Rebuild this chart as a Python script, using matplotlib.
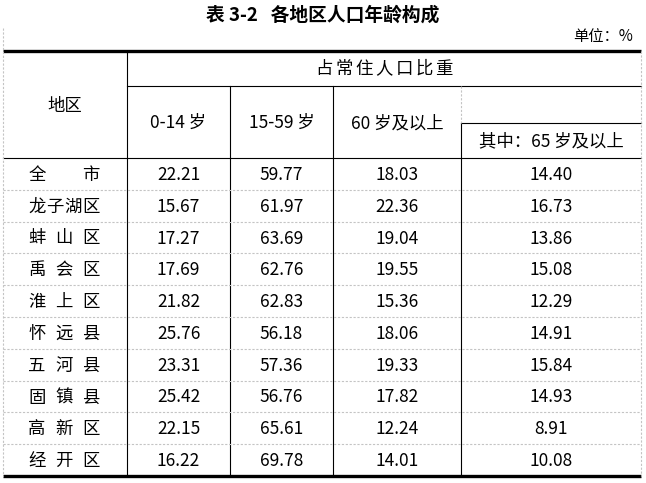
import matplotlib.pyplot as plt

plt.rcParams['font.family'] = ['Noto Sans CJK SC', 'DejaVu Sans']

title = "表 3-2   各地区人口年龄构成"
unit = "单位：%"
group_header = "占常住人口比重"
col_headers = ["0-14 岁", "15-59 岁", "60 岁及以上", "其中：65 岁及以上"]
regions = ["全市", "龙子湖区", "蚌山区", "禹会区", "淮上区",
           "怀远县", "五河县", "固镇县", "高新区", "经开区"]
age_0_14 = [22.21, 15.67, 17.27, 17.69, 21.82, 25.76, 23.31, 25.42, 22.15, 16.22]
age_15_59 = [59.77, 61.97, 63.69, 62.76, 62.83, 56.18, 57.36, 56.76, 65.61, 69.78]
age_60_up = [18.03, 22.36, 19.04, 19.55, 15.36, 18.06, 19.33, 17.82, 12.24, 14.01]
age_65_up = [14.40, 16.73, 13.86, 15.08, 12.29, 14.91, 15.84, 14.93, 8.91, 10.08]

W, H = 646, 483
fig = plt.figure(figsize=(W / 100, H / 100), dpi=100)
ax = fig.add_axes([0, 0, 1, 1])
ax.set_xlim(0, W)
ax.set_ylim(H, 0)
ax.axis('off')

# table layout (pixels)
x_left, x_right = 3, 641
x_cols = [127, 230, 333, 461]
y_top, y_mid, y_sub, y_head, y_bot = 51, 86, 123, 158, 476
row_h = (y_bot - y_head) / len(regions)

black = dict(color='black', lw=0.8)
gray = dict(color='#c4c4c4', lw=0.8, ls=(0, (2, 1.5)))

# thick top/bottom rules
ax.plot([x_left, x_right], [y_top, y_top], color='black', lw=2.4, solid_capstyle='butt')
ax.plot([x_left, x_right], [y_bot, y_bot], color='black', lw=2.4, solid_capstyle='butt')
# header rules
ax.plot([x_cols[0], x_right], [y_mid, y_mid], **black)
ax.plot([x_cols[3], x_right], [y_sub, y_sub], **black)
ax.plot([x_left, x_right], [y_head, y_head], **black)
# vertical rules
ax.plot([x_cols[0], x_cols[0]], [y_top, y_bot], **black)
ax.plot([x_cols[1], x_cols[1]], [y_mid, y_bot], **black)
ax.plot([x_cols[2], x_cols[2]], [y_mid, y_bot], **black)
ax.plot([x_cols[3], x_cols[3]], [y_sub, y_bot], **black)
ax.plot([x_cols[3], x_cols[3]], [y_mid, y_sub], **gray)
# light grid edges
ax.plot([x_left, x_left], [28, y_bot], **gray)
ax.plot([x_right, x_right], [y_top, y_bot], **gray)
for i in range(1, len(regions)):
    y = y_head + i * row_h
    ax.plot([x_left, x_right], [y, y], **gray)

# title and unit
ax.text(W / 2, 15, title, ha='center', va='center', fontsize=13.5, fontweight='bold')
ax.text(633, 37, unit, ha='right', va='center', fontsize=11)

# headers
fs = 12.5
ax.text((x_left + x_cols[0]) / 2, 106, "地区", ha='center', va='center', fontsize=fs)
gh_mid = (x_cols[0] + x_right) / 2
step = 20
for k, ch in enumerate(group_header):
    xc = gh_mid + (k - (len(group_header) - 1) / 2) * step
    ax.text(xc, 69, ch, ha='center', va='center', fontsize=fs)
centers = [(x_cols[0] + x_cols[1]) / 2, (x_cols[1] + x_cols[2]) / 2,
           (x_cols[2] + x_cols[3]) / 2, (x_cols[3] + x_right) / 2]
for j, h in enumerate(col_headers[:3]):
    ax.text(centers[j], 123, h, ha='center', va='center', fontsize=fs)
ax.text(centers[3], 141, col_headers[3], ha='center', va='center', fontsize=fs)

# body
cols = [age_0_14, age_15_59, age_60_up, age_65_up]
lab_l, lab_r = 37, 91
for i, name in enumerate(regions):
    yc = y_head + (i + 0.5) * row_h + 1
    n = len(name)
    for k, ch in enumerate(name):
        xc = lab_l + (lab_r - lab_l) * k / (n - 1)
        ax.text(xc, yc, ch, ha='center', va='center', fontsize=fs)
    for j, col in enumerate(cols):
        ax.text(centers[j], yc, f"{col[i]:.2f}", ha='center', va='center', fontsize=fs)

fig.savefig("out.png", dpi=100)
